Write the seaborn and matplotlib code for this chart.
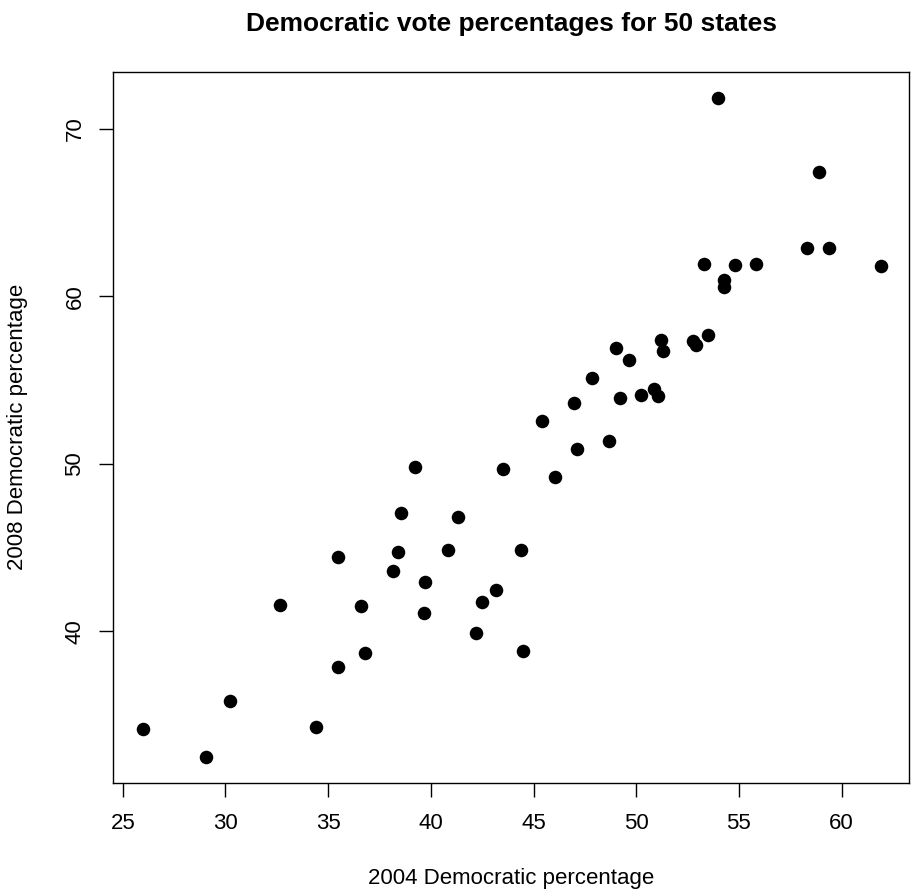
import numpy as np
import pandas as pd
import seaborn as sns
import matplotlib
matplotlib.use("Agg")
import matplotlib.pyplot as plt

# Democratic vote share by state, 2004 vs 2008
dem_2004 = [25.97, 29.04, 30.24, 32.66, 34.41, 35.47, 35.48, 36.59, 36.81, 38.18,
            38.40, 38.53, 39.23, 39.65, 39.72, 40.85, 41.34, 42.19, 42.49, 43.16,
            43.53, 44.38, 44.50, 45.43, 46.06, 46.99, 47.11, 47.85, 48.68, 49.02,
            49.21, 49.66, 50.22, 50.87, 51.06, 51.19, 51.30, 52.78, 52.90, 53.30,
            53.51, 53.97, 54.26, 54.26, 54.80, 55.85, 58.33, 58.90, 59.37, 61.90]
dem_2008 = [34.16, 32.47, 35.85, 41.55, 34.30, 44.43, 37.84, 41.53, 38.70, 43.58,
            44.71, 47.06, 49.83, 41.11, 42.94, 44.85, 46.84, 39.89, 41.74, 42.46,
            49.67, 44.87, 38.82, 52.56, 49.21, 53.63, 50.88, 55.14, 51.34, 56.90,
            53.91, 56.20, 54.13, 54.47, 54.03, 57.37, 56.74, 57.34, 57.08, 61.92,
            57.69, 71.87, 60.98, 60.56, 61.86, 61.92, 62.87, 67.45, 62.87, 61.80]
x_ticks = [25, 30, 35, 40, 45, 50, 55, 60]
y_ticks = [40, 50, 60, 70]

df = pd.DataFrame({"x": dem_2004, "y": dem_2008})

sns.set_style("ticks")
plt.rcParams["font.family"] = ["Liberation Sans", "DejaVu Sans"]
plt.rcParams.update({"text.color": "black", "axes.labelcolor": "black",
                     "xtick.color": "black", "ytick.color": "black"})

fig = plt.figure(figsize=(9.11, 8.96), dpi=100)
ax = fig.add_axes([0.1244, 0.1265, 0.998 - 0.1244, 0.920 - 0.1265])

sns.scatterplot(data=df, x="x", y="y", ax=ax, color="black", s=95,
                linewidth=0, legend=False)

ax.set_xlim(24.54, 63.29)
ax.set_ylim(30.95, 73.42)
ax.set_xticks(x_ticks)
ax.set_yticks(y_ticks)
for sp in ax.spines.values():
    sp.set_linewidth(1.0)
    sp.set_color("black")
ax.tick_params(axis="both", direction="out", length=10, width=1.0,
               labelsize=16)
ax.tick_params(axis="x", pad=12)
ax.tick_params(axis="y", pad=10)
for lab in ax.get_yticklabels():
    lab.set_rotation(90)
    lab.set_va("center")

ax.set_xlabel("2004 Democratic percentage", fontsize=16, labelpad=24)
ax.set_ylabel("2008 Democratic percentage", fontsize=16, labelpad=26)
ax.set_title("Democratic vote percentages for 50 states", fontsize=19,
             fontweight="bold", pad=29)

fig.savefig("out.png", dpi=100)
